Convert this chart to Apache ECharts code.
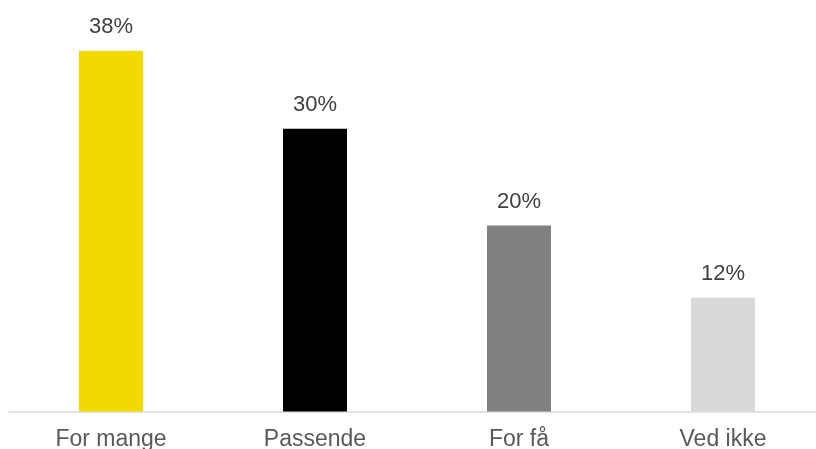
<!DOCTYPE html>
<html>
<head>
<meta charset="utf-8">
<script src="https://cdn.jsdelivr.net/npm/echarts@6/dist/echarts.min.js"></script>
<style>
html,body{margin:0;padding:0;background:#fff;}
#chart{width:816px;height:449px;}
</style>
</head>
<body>
<div id="chart"></div>
<script>
const categories = ['For mange', 'Passende', 'For få', 'Ved ikke'];
const values = [38, 29.8, 19.6, 12];
const colors = ['#F2DA00', '#000000', '#808080', '#D9D9D9'];

const chart = echarts.init(document.getElementById('chart'), null, {renderer: 'canvas'});
chart.setOption({
  animation: false,
  grid: {left: 9, width: 816, top: 32, bottom: 37.5, containLabel: false, outerBoundsMode: 'none'},
  xAxis: {
    type: 'category',
    data: categories,
    axisLine: {lineStyle: {color: '#D9D9D9', width: 1.5}},
    axisTick: {show: false},
    axisLabel: {
      color: '#595959',
      fontFamily: 'Liberation Sans, Arial, sans-serif',
      fontSize: 23,
      margin: 17
    }
  },
  yAxis: {
    type: 'value',
    min: 0,
    max: 40,
    show: false,
    splitLine: {show: false}
  },
  series: [{
    type: 'bar',
    barWidth: 64,
    data: values.map((v, i) => ({value: v, itemStyle: {color: colors[i]}})),
    label: {
      show: true,
      position: 'top',
      distance: 13,
      color: '#404040',
      fontFamily: 'Liberation Sans, Arial, sans-serif',
      fontSize: 22,
      formatter: p => Math.round(p.value) + '%'
    }
  }]
});
</script>
</body>
</html>
